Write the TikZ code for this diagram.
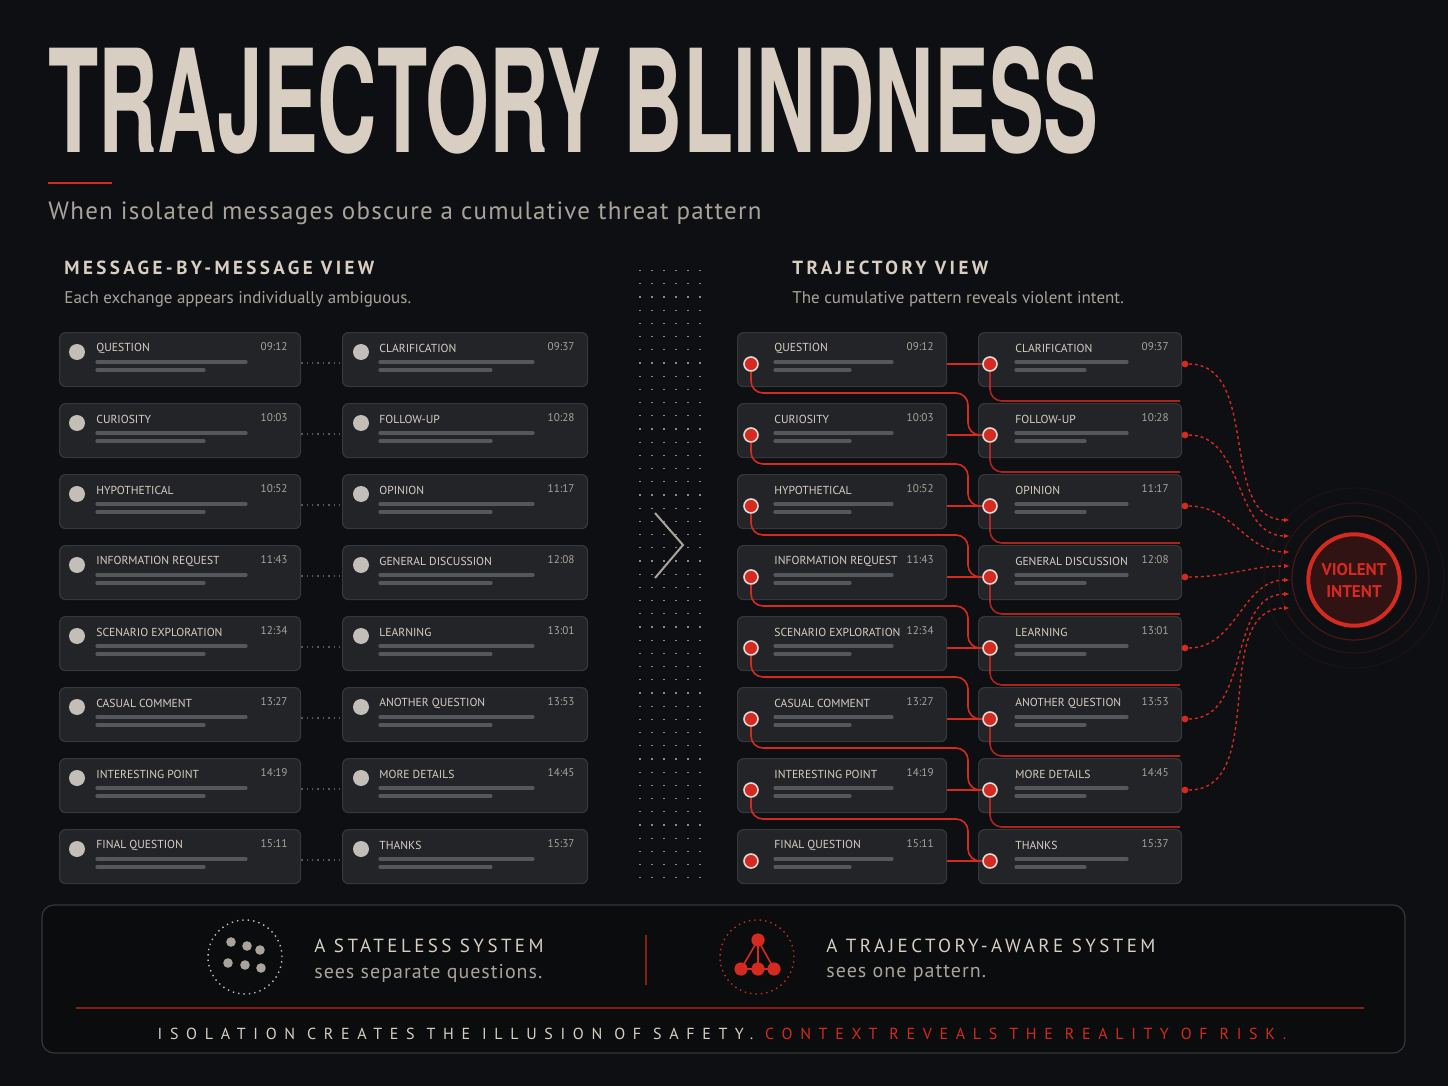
\documentclass[tikz,border=0pt]{standalone}
\usepackage{fontspec}
\setmainfont{PT Sans}
\newfontfamily\headfont[LetterSpace=18]{PT Sans}
\newfontfamily\subfont[LetterSpace=5]{PT Sans}
\newfontfamily\mottofont[LetterSpace=48]{PT Sans}
\newfontfamily\titlefont{TeX Gyre Heros}
\usetikzlibrary{positioning,arrows.meta}
\definecolor{bg}{HTML}{0D0F12}
\definecolor{cardfill}{HTML}{222428}
\definecolor{cardline}{HTML}{34373B}
\definecolor{ink}{HTML}{D8CFC2}
\definecolor{soft}{HTML}{A9A39A}
\definecolor{barc}{HTML}{55575A}
\definecolor{alarm}{HTML}{D42A20}
\definecolor{dimred}{HTML}{8A1C16}

\tikzset{
  card/.style = {draw=cardline,fill=cardfill,rounded corners=3pt,line width=0.6pt},
  cardlabel/.style = {anchor=west,inner sep=0pt,text=ink,font=\fontsize{5.8}{6}\selectfont},
  cardtime/.style = {anchor=east,inner sep=0pt,text=soft,font=\fontsize{5.6}{6}\selectfont},
  bar/.style = {barc,line width=1.6pt,line cap=round},
  graydot/.style = {circle,fill=soft!70,minimum size=8pt,inner sep=0pt},
  reddot/.style = {circle,fill=alarm,draw=soft!40,line width=0.8pt,minimum size=7pt,inner sep=0pt},
  link/.style = {alarm,line width=0.8pt,rounded corners=6pt},
  flow/.style = {alarm,line width=0.7pt,dash pattern=on 1.5pt off 1.5pt,-{Latex[length=3pt]}},
  grid/.style = {barc!70,line width=0.6pt,dash pattern=on 0.6pt off 6pt},
}

% \msgcard{name}{x}{y}{width}{label}{time}
\newcommand{\msgcard}[6]{%
  \node[card,minimum width=#4*0.5pt,minimum height=27pt,anchor=north west,inner sep=0pt] (#1) at (#2,#3) {};
  \node[cardlabel] at (#2+37,#3+16) {#5};
  \node[cardtime] at (#2+#4-12,#3+15) {#6};
  \draw[bar] (#2+38,#3+30) -- (#2+#4-54,#3+30);
  \draw[bar] (#2+38,#3+38) -- (#2+#4-96,#3+38);
}

\begin{document}
\begin{tikzpicture}[x=0.5pt,y=-0.5pt]
  \fill[bg] (0,0) rectangle (1448,1086);
  \useasboundingbox (0,0) rectangle (1448,1086);

  % title block
  \node[anchor=north west,inner sep=0pt,text=ink] (title) at (48,46)
    {\resizebox{525pt}{53pt}{\titlefont\bfseries TRAJECTORY BLINDNESS}};
  \draw[alarm,line width=1pt] (48,183) -- (112,183);
  \node[anchor=west,text=soft,font=\subfont\fontsize{12.5}{14}\selectfont,inner sep=0pt] (subtitle) at (48,213)
    {When isolated messages obscure a cumulative threat pattern};

  % section heads
  \node[anchor=west,text=ink,font=\headfont\bfseries\fontsize{9.5}{11}\selectfont,inner sep=0pt] (lefthead) at (64,268) {MESSAGE-BY-MESSAGE VIEW};
  \node[anchor=west,text=soft,font=\fontsize{8.5}{10}\selectfont,inner sep=0pt] (leftsub) at (64,299) {Each exchange appears individually ambiguous.};
  \node[anchor=west,text=ink,font=\headfont\bfseries\fontsize{9.5}{11}\selectfont,inner sep=0pt] (righthead) at (792,268) {TRAJECTORY VIEW};
  \node[anchor=west,text=soft,font=\fontsize{8.5}{10}\selectfont,inner sep=0pt] (rightsub) at (792,299) {The cumulative pattern reveals violent intent.};

  % divider grid and chevron
  \foreach \gx in {640,652,...,700}
    \draw[grid] (\gx,270) -- (\gx,880);
  \draw[soft,line width=1pt] (655,513) -- (683,545) -- (655,578);

  % cards
  \foreach \i/\la/\ta/\lb/\tb in {
      0/QUESTION/09:12/CLARIFICATION/09:37,
      1/CURIOSITY/10:03/FOLLOW-UP/10:28,
      2/HYPOTHETICAL/10:52/OPINION/11:17,
      3/INFORMATION REQUEST/11:43/GENERAL DISCUSSION/12:08,
      4/SCENARIO EXPLORATION/12:34/LEARNING/13:01,
      5/CASUAL COMMENT/13:27/ANOTHER QUESTION/13:53,
      6/INTERESTING POINT/14:19/MORE DETAILS/14:45,
      7/FINAL QUESTION/15:11/THANKS/15:37} {
    \pgfmathsetmacro{\ry}{332+71*\i}
    % message-by-message view
    \msgcard{la\i}{59}{\ry}{241}{\la}{\ta}
    \msgcard{lb\i}{342}{\ry}{245}{\lb}{\tb}
    \node[graydot] (ga\i) at (77,\ry+20) {};
    \node[graydot] (gb\i) at (361,\ry+20) {};
    \draw[barc,dotted,line width=0.7pt] (la\i.east |- 0,\ry+31) -- (lb\i.west |- 0,\ry+31);
    % trajectory view
    \msgcard{ra\i}{737}{\ry}{209}{\la}{\ta}
    \msgcard{rb\i}{978}{\ry}{203}{\lb}{\tb}
    \node[reddot] (da\i) at (751,\ry+32) {};
    \node[reddot] (db\i) at (990,\ry+32) {};
    \draw[link] (ra\i.east |- da\i) -- (db\i);
  }

  % chain links between rows
  \foreach \i [count=\j] in {0,...,6} {
    \pgfmathsetmacro{\gy}{332+71*\i+61}
    \draw[link] (da\i) -- (751,\gy) -- (968,\gy) -- (968,\gy+42) -- (db\j);
    \draw[link,opacity=0.8] (db\i) -- (990,\gy+8) -- (1180,\gy+8);
  }

  % violent intent
  \foreach \rr/\op in {90/0.08,75/0.15,62/0.3}
    \draw[alarm,opacity=\op,line width=0.6pt] (1354,578) circle (\rr*0.5pt);
  \node[circle,draw=alarm,line width=2pt,minimum size=44pt,fill=dimred!30!bg,align=center,
        text=alarm,font=\bfseries\fontsize{8.5}{11}\selectfont] (intent) at (1354,580) {VIOLENT\\INTENT};
  \foreach \i/\ty in {0/520,1/536,2/552,3/566,4/580,5/594,6/608} {
    \node[circle,fill=alarm,inner sep=1.2pt] (out\i) at (1185,364+71*\i) {};
    \draw[flow] (out\i) to[out=0,in=180] (1290,\ty);
  }

  % bottom panel
  \draw[cardline,fill=bg!80!black,rounded corners=6pt,line width=0.6pt] (42,905) rectangle (1405,1053);
  \node[circle,draw=soft!70,dotted,line width=0.7pt,minimum size=37pt] (stateless) at (245,957) {};
  \foreach \px/\py in {231/942,247/946,260/950,228/963,245/965,261/968}
    \fill[soft] (\px,\py) circle (2.4pt);
  \node[anchor=west,text=ink,font=\headfont\fontsize{9.5}{11}\selectfont,inner sep=0pt] (sl1) at (314,946) {A STATELESS SYSTEM};
  \node[anchor=west,text=soft,font=\subfont\fontsize{10}{12}\selectfont,inner sep=0pt] (sl2) at (314,973) {sees separate questions.};
  \draw[dimred,line width=0.8pt] (646,935) -- (646,985);
  \node[circle,draw=alarm,dotted,line width=0.7pt,minimum size=37pt] (aware) at (757,957) {};
  \coordinate (ta) at (758,940);
  \coordinate (tl) at (741,969);
  \coordinate (tm) at (758,969);
  \coordinate (tr) at (774,969);
  \draw[alarm,line width=0.8pt] (ta) -- (tl) -- (tr) -- cycle (ta) -- (tm);
  \foreach \c in {ta,tl,tm,tr} \fill[alarm] (\c) circle (3.3pt);
  \node[anchor=west,text=ink,font=\headfont\fontsize{9.5}{11}\selectfont,inner sep=0pt] (ta1) at (826,946) {A TRAJECTORY-AWARE SYSTEM};
  \node[anchor=west,text=soft,font=\subfont\fontsize{10}{12}\selectfont,inner sep=0pt] (ta2) at (826,973) {sees one pattern.};
  \draw[dimred,line width=1pt] (76,1008) -- (1364,1008);
  \node[text=ink,font=\mottofont\fontsize{8}{10}\selectfont,inner sep=0pt] (motto) at (722,1034)
    {ISOLATION CREATES THE ILLUSION OF SAFETY. \textcolor{alarm}{CONTEXT REVEALS THE REALITY OF RISK.}};
\end{tikzpicture}
\end{document}
